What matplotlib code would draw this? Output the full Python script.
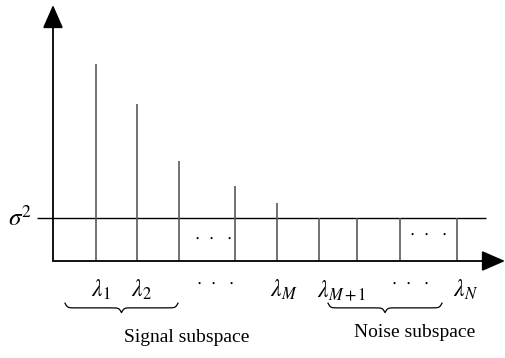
import numpy as np
import matplotlib.pyplot as plt

plt.rcParams['font.family'] = ['Liberation Serif', 'DejaVu Serif']
plt.rcParams['mathtext.fontset'] = 'stix'

# eigenvalue positions along the axis and their magnitudes (sigma^2 = 1)
eig_pos = [43, 84, 126, 182, 224, 266, 304, 347, 404]
eig_val = [4.58, 3.65, 2.33, 1.74, 1.35, 1.0, 1.0, 1.0, 1.0]
sigma2 = 1.0

DOTS = r'$\cdot\;\;\cdot\;\;\cdot$'
tick_labels = [r'$\lambda_1$', r'$\lambda_2$', DOTS, r'$\lambda_M$',
               r'$\lambda_{M+1}$', DOTS, r'$\lambda_N$']
tick_x = [48, 88, 162, 231, 289, 357, 413]
tick_y = [-0.68, -0.68, -0.49, -0.68, -0.68, -0.49, -0.68]

# (start, end) of the two subspace groups
signal_span = (12, 125)
noise_span = (275, 389)

LINE = '#5a5a5a'


def brace(ax, x0, x1, ytop, depth, beta=0.8):
    x = np.linspace(x0, x1, 301)
    half = x[:151]
    yh = 1 / (1 + np.exp(-beta * (half - half[0]))) + 1 / (1 + np.exp(-beta * (half - half[-1])))
    yy = np.concatenate((yh, yh[-2::-1]))
    ax.plot(x, ytop - depth * (yy - 0.5), color='black', lw=0.9)


fig = plt.figure(figsize=(5.06, 3.58), dpi=100)
ax = fig.add_axes([0, 0, 1, 1])
ax.set_xlim(-53, 453)
ax.set_ylim(-97 / 43, 261 / 43)
ax.axis('off')

# axes with arrow heads
arrow = dict(arrowstyle='-|>,head_length=0.8,head_width=0.35', color='black', lw=1.3,
             mutation_scale=18, shrinkA=0, shrinkB=0)
ax.annotate('', xy=(0, 256 / 43), xytext=(0, 0), arrowprops=arrow)
ax.annotate('', xy=(452, 0), xytext=(0, 0), arrowprops=arrow)

# noise floor
ax.hlines(sigma2, -16, 433, color='black', lw=1.0)
ax.text(-33, sigma2, r'$\sigma^2$', ha='center', va='center', fontsize=18)

# eigenvalue stems
ax.vlines(eig_pos, 0, eig_val, color=LINE, lw=1.2)

ax.text(160, 0.56, DOTS, ha='center', va='center', fontsize=13)
ax.text(375, 0.65, DOTS, ha='center', va='center', fontsize=13)

for lab, x, y in zip(tick_labels, tick_x, tick_y):
    ax.text(x, y, lab, ha='center', va='center', fontsize=13 if lab == DOTS else 17)

brace(ax, *signal_span, -0.98, 0.22)
brace(ax, *noise_span, -0.98, 0.22)

ax.text(134, -1.79, 'Signal subspace', ha='center', va='center', fontsize=14)
ax.text(362, -1.67, 'Noise subspace', ha='center', va='center', fontsize=14)

fig.savefig('out.png', dpi=100)
